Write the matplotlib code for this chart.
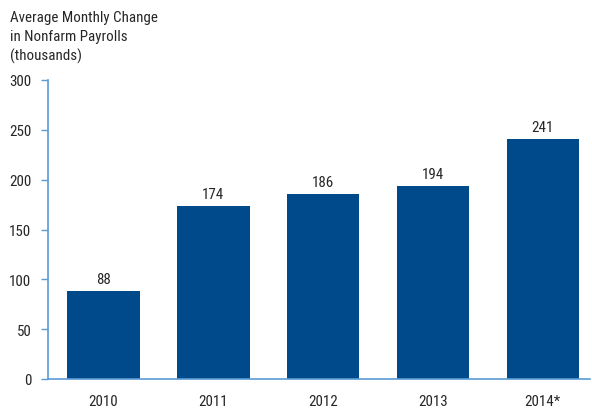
import matplotlib
matplotlib.use("Agg")
import matplotlib.pyplot as plt
from matplotlib import font_manager
import os

years = ["2010", "2011", "2012", "2013", "2014*"]
values = [88, 174, 186, 194, 241]
yticks = [0, 50, 100, 150, 200, 250, 300]

# choose a condensed sans face, preferring Roboto Condensed
files = {os.path.basename(f.fname).lower(): f.fname for f in font_manager.fontManager.ttflist}
prefs = ["robotocondensed-regular.ttf", "robotocondensed[wght].ttf", "robotocondensed-regular.otf",
         "archivonarrow-regular.ttf", "archivonarrow[wght].ttf", "barlowsemicondensed-regular.ttf"]
font_file = None
for p in prefs:
    if p in files:
        font_file = files[p]
        break
if font_file is None:
    for k, v in files.items():
        if "robotocondensed" in k and "italic" not in k and ("regular" in k or "wght" in k):
            font_file = v
            break

FS = 10.8


def fprop(size=FS):
    if font_file is not None:
        return font_manager.FontProperties(fname=font_file, size=size)
    return font_manager.FontProperties(family="Liberation Sans", size=size - 0.3)


bar_color = "#004a8c"
axis_color = "#5b9bd5"
text_color = "#262626"

fig = plt.figure(figsize=(5.92, 4.10), dpi=100)
ax = fig.add_axes([48/592, 1-380/410, 542/592, (380-81)/410])
x = range(len(years))
ax.bar(x, values, width=0.66, color=bar_color, zorder=2)
for xi, v in zip(x, values):
    ax.text(xi, v + 5, str(v), ha="center", va="bottom", color=text_color, fontproperties=fprop())

ax.set_ylim(0, 300)
ax.set_xlim(-0.505, 4.43)
ax.set_yticks(yticks)
ax.set_yticklabels([str(t) for t in yticks], color=text_color, fontproperties=fprop())
ax.set_xticks(list(x))
ax.set_xticklabels(years, color=text_color, fontproperties=fprop())
ax.tick_params(axis="y", length=5, color=axis_color, width=1, pad=7)
ax.tick_params(axis="x", length=0, pad=10.5)
for s in ["top", "right"]:
    ax.spines[s].set_visible(False)
for s in ["left", "bottom"]:
    ax.spines[s].set_color(axis_color)
    ax.spines[s].set_linewidth(1.2)

fig.text(10/592, 1-11/410, "Average Monthly Change\nin Nonfarm Payrolls\n(thousands)",
         ha="left", va="top", color=text_color, linespacing=1.42, fontproperties=fprop())

fig.savefig("out.png", dpi=100)
